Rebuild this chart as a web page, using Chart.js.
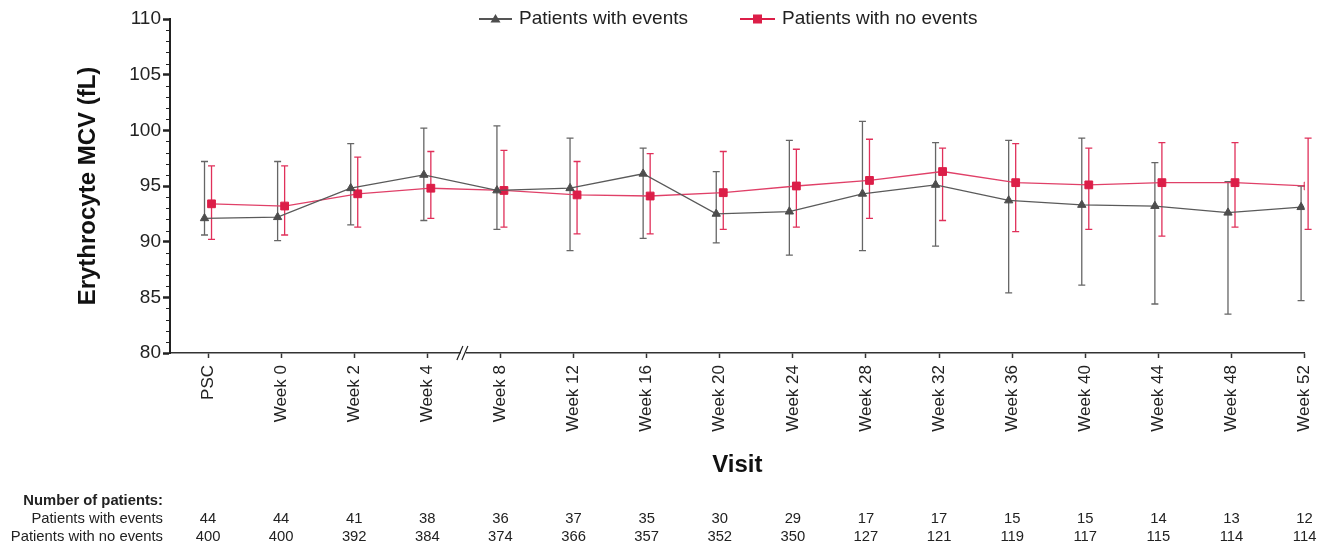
<!DOCTYPE html>
<html lang="en">
<head>
<meta charset="UTF-8">
<title>Erythrocyte MCV by visit</title>
<script src="https://cdn.jsdelivr.net/npm/chart.js"></script>
<style>
    body { margin: 0; background: #fff; }
    .wrap { width: 1332px; height: 546px; position: relative; }
</style>
</head>
<body>
<div class="wrap"><canvas id="mcvChart"></canvas></div>
<script>
const visits = ['PSC', 'Week 0', 'Week 2', 'Week 4', 'Week 8', 'Week 12', 'Week 16', 'Week 20',
    'Week 24', 'Week 28', 'Week 32', 'Week 36', 'Week 40', 'Week 44', 'Week 48', 'Week 52'];

const eventsMean = [92.1, 92.2, 94.8, 96.0, 94.6, 94.8, 96.1, 92.5, 92.7, 94.3, 95.1, 93.7, 93.3, 93.2, 92.6, 93.1];
const eventsHigh = [97.2, 97.2, 98.8, 100.2, 100.4, 99.3, 98.4, 96.3, 99.1, 100.8, 98.9, 99.1, 99.3, 97.1, 95.4, 95.0];
const eventsLow  = [90.6, 90.1, 91.5, 91.9, 91.1, 89.2, 90.3, 89.9, 88.8, 89.2, 89.6, 85.4, 86.1, 84.4, 83.5, 84.7];

const noEventsMean = [93.4, 93.2, 94.3, 94.8, 94.6, 94.2, 94.1, 94.4, 95.0, 95.5, 96.3, 95.3, 95.1, 95.3, 95.3, 95.0];
const noEventsHigh = [96.8, 96.8, 97.6, 98.1, 98.2, 97.2, 97.9, 98.1, 98.3, 99.2, 98.4, 98.8, 98.4, 98.9, 98.9, 99.3];
const noEventsLow  = [90.2, 90.6, 91.3, 92.1, 91.3, 90.7, 90.7, 91.1, 91.3, 92.1, 91.9, 90.9, 91.1, 90.5, 91.3, 91.1];

const eventsN   = [44, 44, 41, 38, 36, 37, 35, 30, 29, 17, 17, 15, 15, 14, 13, 12];
const noEventsN = [400, 400, 392, 384, 374, 366, 357, 352, 350, 127, 121, 119, 117, 115, 114, 114];

const GRAY = '#4d4d4d';
const RED = '#dc1e48';
const FONT = '"Liberation Sans", Arial, sans-serif';

// small horizontal dodge so the two groups don't overlap
const dodge = 0.048;
const eventsPts = eventsMean.map((v, i) => ({ x: i - dodge, y: v }));
const noEventsPts = noEventsMean.map((v, i) => ({ x: i + dodge, y: v }));

const extras = {
    id: 'extras',
    beforeDatasetsDraw(chart) {
        const ctx = chart.ctx;
        const y = chart.scales.y;
        const bars = [[0, eventsHigh, eventsLow, '#666'], [1, noEventsHigh, noEventsLow, '#e0305a']];
        ctx.save();
        ctx.lineWidth = 1.3;
        bars.forEach(([ds, hi, lo, col]) => {
            const meta = chart.getDatasetMeta(ds);
            ctx.strokeStyle = col;
            meta.data.forEach((pt, i) => {
                const top = y.getPixelForValue(hi[i]);
                const bot = y.getPixelForValue(lo[i]);
                ctx.beginPath();
                ctx.moveTo(pt.x, top); ctx.lineTo(pt.x, bot);
                ctx.moveTo(pt.x - 3.5, top); ctx.lineTo(pt.x + 3.5, top);
                ctx.moveTo(pt.x - 3.5, bot); ctx.lineTo(pt.x + 3.5, bot);
                ctx.stroke();
            });
        });
        ctx.restore();
    },
    afterDraw(chart) {
        const ctx = chart.ctx;
        const x = chart.scales.x;
        const y = chart.scales.y;
        const area = chart.chartArea;
        ctx.save();

        // minor ticks on y
        ctx.strokeStyle = '#222';
        ctx.lineWidth = 1;
        for (let v = 81; v < 110; v++) {
            if (v % 5 === 0) continue;
            const py = Math.round(y.getPixelForValue(v)) + 0.5;
            ctx.beginPath();
            ctx.moveTo(area.left - 4, py); ctx.lineTo(area.left, py);
            ctx.stroke();
        }

        // axis break between Week 4 and Week 8
        const bx = x.getPixelForValue(3.5);
        const by = area.bottom;
        ctx.fillStyle = '#fff';
        ctx.fillRect(bx - 3, by - 2, 5, 4);
        ctx.strokeStyle = '#222';
        ctx.lineWidth = 1.2;
        ctx.beginPath();
        ctx.moveTo(bx - 7, by + 7); ctx.lineTo(bx - 1, by - 7);
        ctx.moveTo(bx - 2, by + 7); ctx.lineTo(bx + 4, by - 7);
        ctx.stroke();

        // legend
        const ly = 19;
        ctx.lineWidth = 2;
        ctx.strokeStyle = '#555';
        ctx.beginPath(); ctx.moveTo(479, ly); ctx.lineTo(512, ly); ctx.stroke();
        ctx.fillStyle = GRAY;
        ctx.beginPath();
        ctx.moveTo(495.5, ly - 5); ctx.lineTo(500.5, ly + 3.5); ctx.lineTo(490.5, ly + 3.5);
        ctx.closePath(); ctx.fill();
        ctx.strokeStyle = RED;
        ctx.beginPath(); ctx.moveTo(740, ly); ctx.lineTo(775, ly); ctx.stroke();
        ctx.fillStyle = RED;
        ctx.fillRect(753, ly - 4.5, 9, 9);
        ctx.fillStyle = '#222';
        ctx.font = '19px ' + FONT;
        ctx.textAlign = 'left';
        ctx.textBaseline = 'middle';
        ctx.fillText('Patients with events', 519, ly);
        ctx.fillText('Patients with no events', 782, ly);

        // number of patients table
        ctx.textAlign = 'right';
        ctx.font = 'bold 14.8px ' + FONT;
        ctx.fillText('Number of patients:', 163, 501);
        ctx.font = '14.8px ' + FONT;
        ctx.fillText('Patients with events', 163, 519);
        ctx.fillText('Patients with no events', 163, 537);
        ctx.textAlign = 'center';
        visits.forEach((v, i) => {
            const px = x.getPixelForValue(i);
            ctx.fillText(String(eventsN[i]), px, 519);
            ctx.fillText(String(noEventsN[i]), px, 537);
        });
        ctx.restore();
    }
};

new Chart(document.getElementById('mcvChart'), {
    type: 'line',
    data: {
        datasets: [{
            label: 'Patients with events',
            data: eventsPts,
            borderColor: '#5a5a5a',
            borderWidth: 1.3,
            pointStyle: 'triangle',
            pointRadius: 4.8,
            pointBackgroundColor: GRAY,
            pointBorderColor: GRAY,
            pointBorderWidth: 1
        }, {
            label: 'Patients with no events',
            data: noEventsPts,
            borderColor: '#e04068',
            borderWidth: 1.3,
            pointStyle: 'rect',
            pointRadius: 5.5,
            pointBackgroundColor: RED,
            pointBorderColor: RED,
            pointBorderWidth: 1
        }]
    },
    options: {
        responsive: true,
        maintainAspectRatio: false,
        animation: false,
        layout: { padding: { top: 19, right: 26, left: 0, bottom: 0 } },
        plugins: {
            legend: { display: false },
            tooltip: { enabled: false }
        },
        scales: {
            x: {
                type: 'linear',
                min: -0.52,
                max: 15,
                afterBuildTicks(scale) {
                    scale.ticks = visits.map((v, i) => ({ value: i }));
                },
                afterFit(scale) { scale.height = 193; },
                border: { color: '#333', width: 1.5 },
                grid: { drawOnChartArea: false, tickLength: 5, tickWidth: 1.5, tickColor: '#333' },
                ticks: {
                    autoSkip: false,
                    minRotation: 90,
                    maxRotation: 90,
                    padding: 7,
                    color: '#222',
                    font: { family: FONT, size: 17 },
                    callback: (v) => visits[v]
                },
                title: {
                    display: true,
                    text: 'Visit',
                    color: '#111',
                    font: { family: FONT, size: 24, weight: 'bold' },
                    padding: { top: 0, bottom: 66 }
                }
            },
            y: {
                min: 80,
                max: 110,
                afterFit(scale) { scale.width = 170; },
                border: { color: '#222', width: 2 },
                grid: { drawOnChartArea: false, tickLength: 7, tickWidth: 2.5, tickColor: '#222' },
                ticks: {
                    stepSize: 5,
                    padding: 2,
                    color: '#222',
                    font: { family: FONT, size: 19 }
                },
                title: {
                    display: true,
                    text: 'Erythrocyte MCV (fL)',
                    color: '#111',
                    font: { family: FONT, size: 24, weight: 'bold' },
                    padding: { top: 74, bottom: 0 }
                }
            }
        }
    },
    plugins: [extras]
});
</script>
</body>
</html>
